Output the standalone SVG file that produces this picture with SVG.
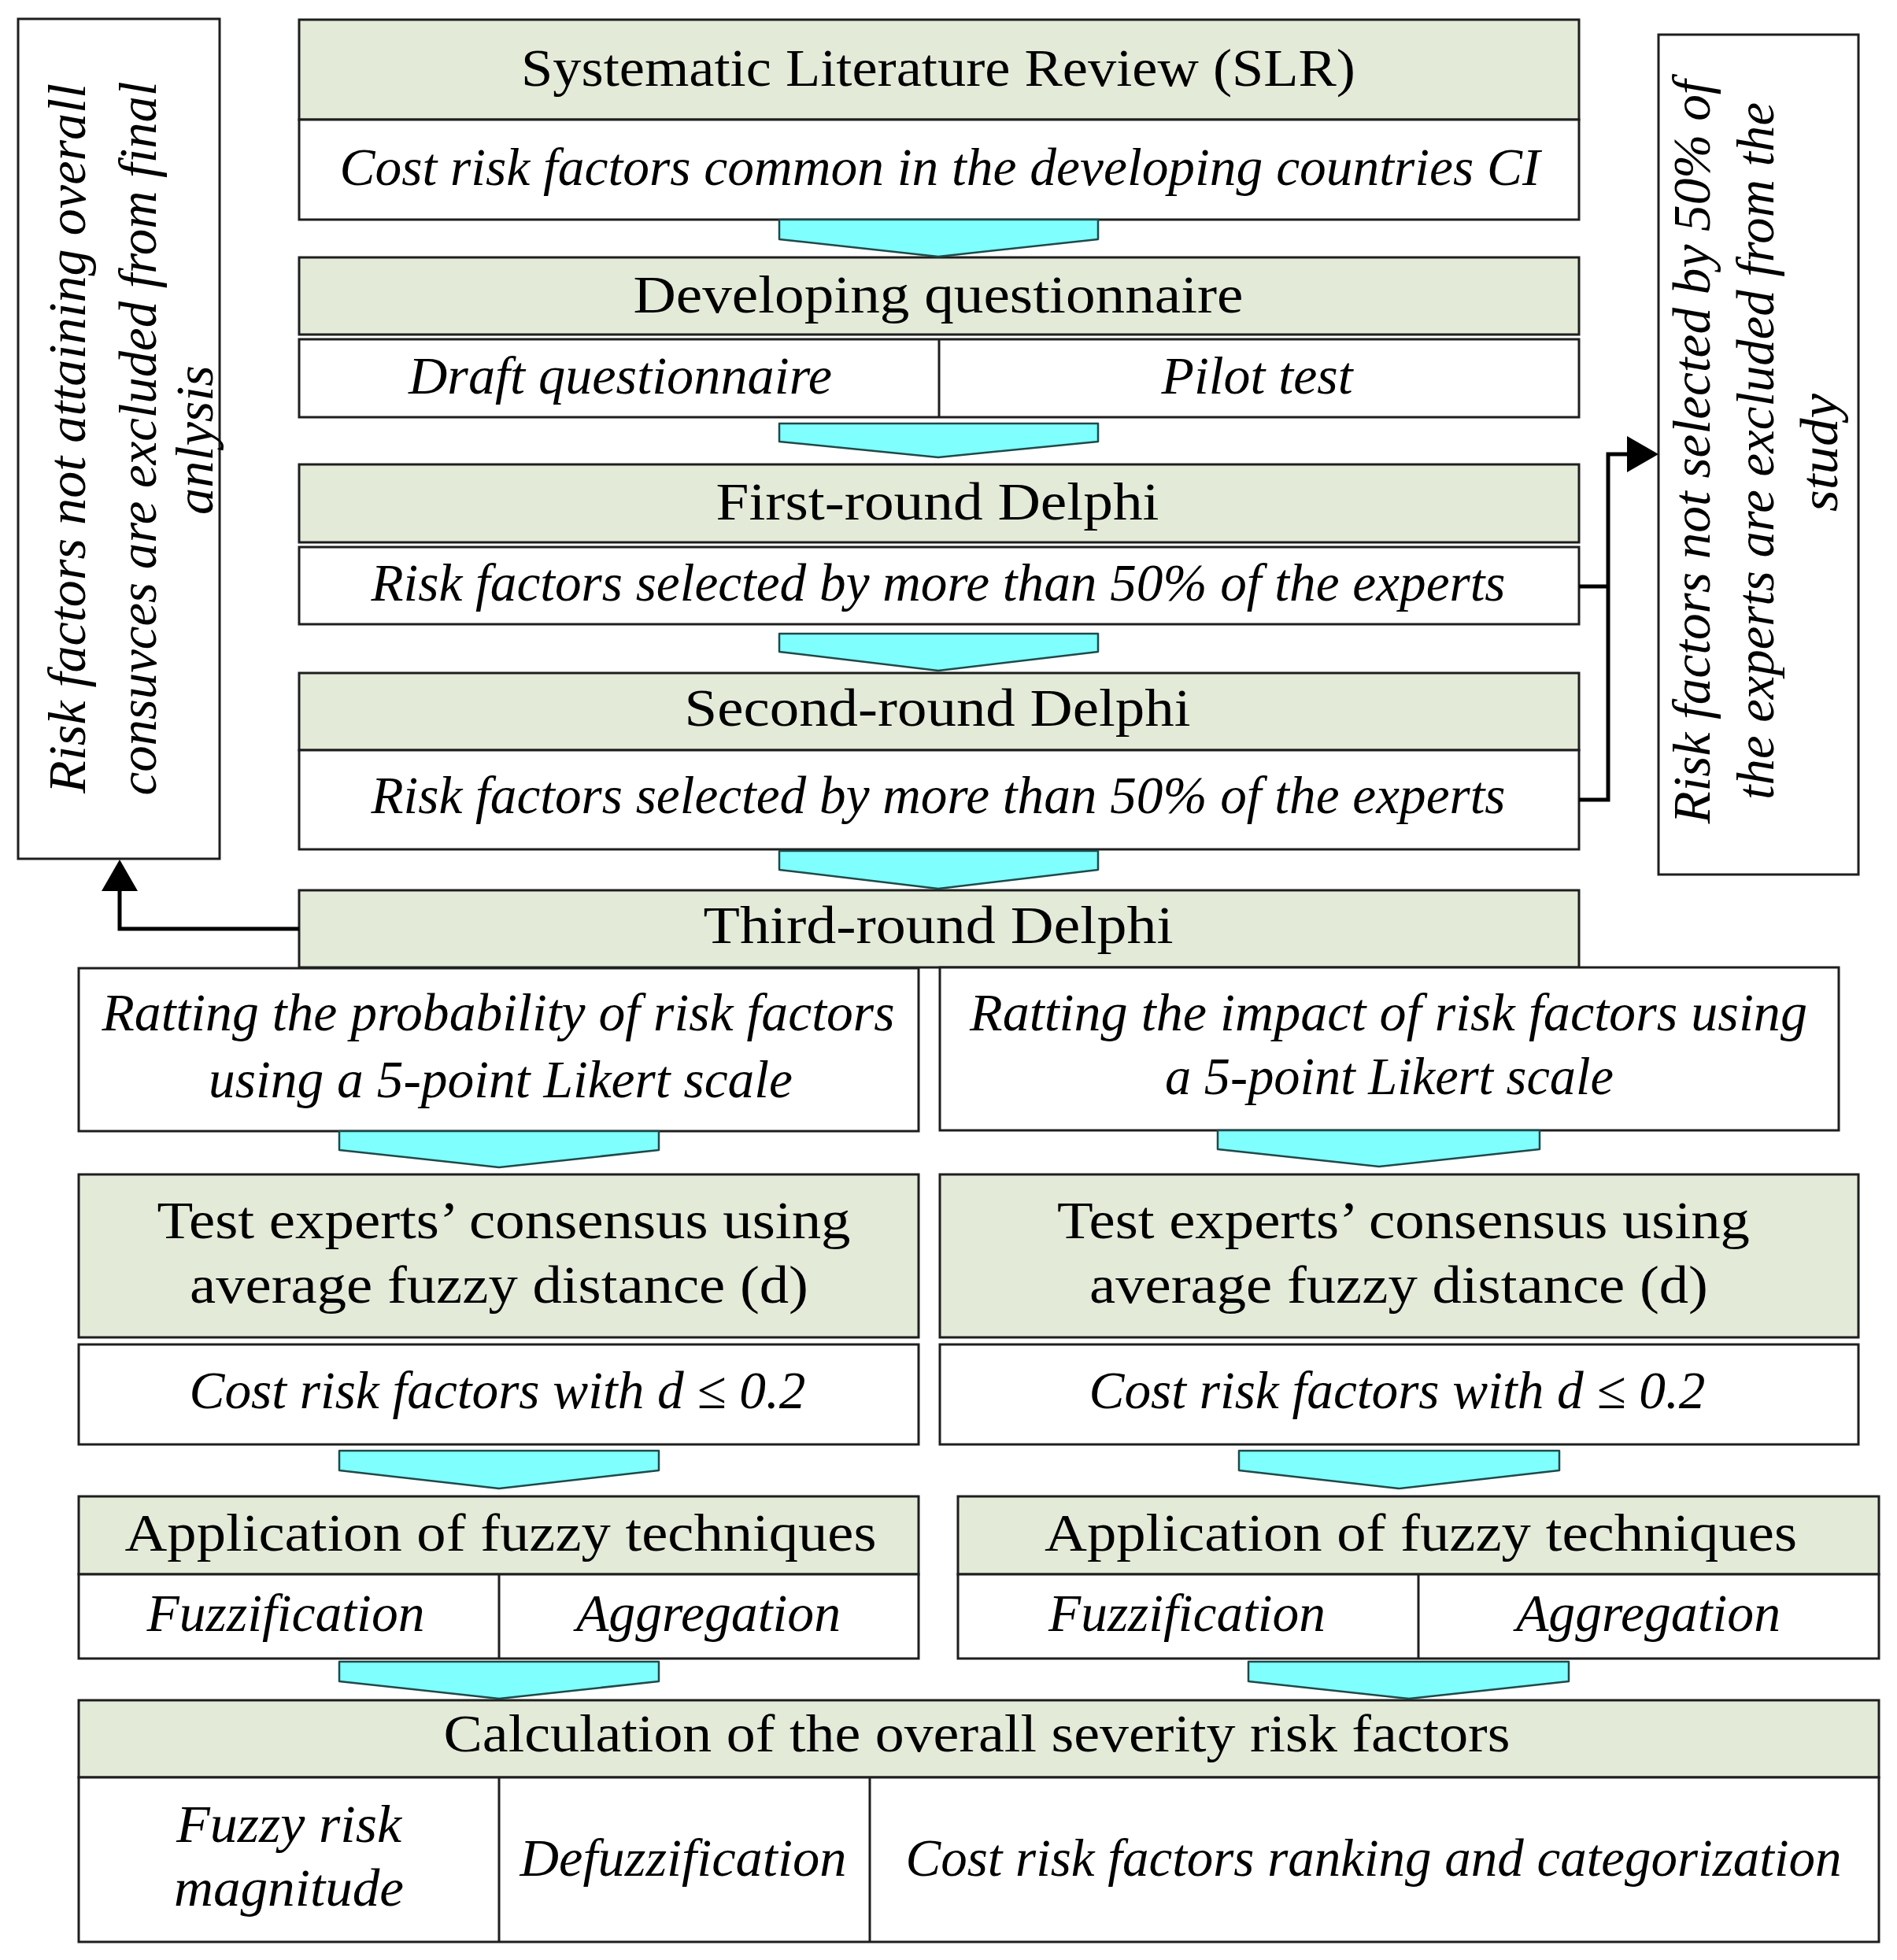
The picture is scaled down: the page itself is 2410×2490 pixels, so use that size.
<svg xmlns="http://www.w3.org/2000/svg" width="2410" height="2490" viewBox="0 0 2410 2490">
<style>
.bg{fill:#fff}
.hdr{fill:#e3ead8;stroke:#1e1e1e;stroke-width:3}
.sub{fill:#fff;stroke:#1e1e1e;stroke-width:3}
.note{fill:#fff;stroke:#1e1e1e;stroke-width:3}
.div{stroke:#1e1e1e;stroke-width:3}
.chev{fill:#80ffff;stroke:#1f4a4a;stroke-width:2.5;stroke-linejoin:round}
.t{font-family:"Liberation Serif","DejaVu Serif",serif;font-size:68px;fill:#000;text-anchor:middle}
.i{font-style:italic}
.conn{fill:none;stroke:#000;stroke-width:5}
</style>
<defs>
<marker id="ah" viewBox="0 0 40 46" refX="0" refY="23" markerWidth="40" markerHeight="46" markerUnits="userSpaceOnUse" orient="auto">
<path d="M0,0 L40,23 L0,46 z" fill="#000"/>
</marker>
</defs>
<rect class="bg" x="0" y="0" width="2410" height="2490"/>

<g id="note-left">
<rect class="note" x="23" y="24" width="256" height="1067"/>
<text class="t i" transform="rotate(-90 108 557)" x="108" y="557" textLength="902" lengthAdjust="spacingAndGlyphs">Risk factors not attaining overall</text>
<text class="t i" transform="rotate(-90 198 557)" x="198" y="557" textLength="907" lengthAdjust="spacingAndGlyphs">consuvces are excluded from final</text>
<text class="t i" transform="rotate(-90 270 559)" x="270" y="559" textLength="190" lengthAdjust="spacingAndGlyphs">anlysis</text>
</g>

<g id="note-right">
<rect class="note" x="2107" y="44" width="254" height="1067"/>
<text class="t i" transform="rotate(-90 2172 574)" x="2172" y="574" textLength="945" lengthAdjust="spacingAndGlyphs">Risk factors not selected by 50% of</text>
<text class="t i" transform="rotate(-90 2253 573)" x="2253" y="573" textLength="886" lengthAdjust="spacingAndGlyphs">the experts are excluded from the</text>
<text class="t i" transform="rotate(-90 2334 575)" x="2334" y="575" textLength="150" lengthAdjust="spacingAndGlyphs">study</text>
</g>

<g id="slr">
<rect class="hdr" x="380" y="25" width="1626" height="127"/>
<rect class="sub" x="380" y="152" width="1626" height="127"/>
<text class="t" x="1192" y="109" textLength="1060" lengthAdjust="spacingAndGlyphs">Systematic Literature Review (SLR)</text>
<text class="t i" x="1194" y="235" textLength="1525" lengthAdjust="spacingAndGlyphs">Cost risk factors common in the developing countries CI</text>
</g>

<g id="questionnaire">
<rect class="hdr" x="380" y="327" width="1626" height="98"/>
<rect class="sub" x="380" y="431" width="1626" height="99"/>
<line class="div" x1="1193" y1="431" x2="1193" y2="530"/>
<text class="t" x="1192" y="397" textLength="775" lengthAdjust="spacingAndGlyphs">Developing questionnaire</text>
<text class="t i" x="788" y="500" textLength="538" lengthAdjust="spacingAndGlyphs">Draft questionnaire</text>
<text class="t i" x="1597" y="500" textLength="243" lengthAdjust="spacingAndGlyphs">Pilot test</text>
</g>

<g id="delphi1">
<rect class="hdr" x="380" y="590" width="1626" height="99"/>
<rect class="sub" x="380" y="695" width="1626" height="98"/>
<text class="t" x="1191" y="660" textLength="563" lengthAdjust="spacingAndGlyphs">First-round Delphi</text>
<text class="t i" x="1192" y="763" textLength="1441" lengthAdjust="spacingAndGlyphs">Risk factors selected by more than 50% of the experts</text>
</g>

<g id="delphi2">
<rect class="hdr" x="380" y="855" width="1626" height="98"/>
<rect class="sub" x="380" y="953" width="1626" height="126"/>
<text class="t" x="1191" y="922" textLength="643" lengthAdjust="spacingAndGlyphs">Second-round Delphi</text>
<text class="t i" x="1192" y="1033" textLength="1441" lengthAdjust="spacingAndGlyphs">Risk factors selected by more than 50% of the experts</text>
</g>

<g id="delphi3">
<rect class="hdr" x="380" y="1131" width="1626" height="98"/>
<text class="t" x="1192" y="1198" textLength="597" lengthAdjust="spacingAndGlyphs">Third-round Delphi</text>
</g>

<g id="rate-prob">
<rect class="sub" x="100" y="1230" width="1067" height="207"/>
<text class="t i" x="633" y="1309" textLength="1007" lengthAdjust="spacingAndGlyphs">Ratting the probability of risk factors</text>
<text class="t i" x="636" y="1394" textLength="742" lengthAdjust="spacingAndGlyphs">using a 5-point Likert scale</text>
</g>

<g id="rate-impact">
<rect class="sub" x="1194" y="1229" width="1142" height="207"/>
<text class="t i" x="1764" y="1309" textLength="1064" lengthAdjust="spacingAndGlyphs">Ratting the impact of risk factors using</text>
<text class="t i" x="1765" y="1390" textLength="570" lengthAdjust="spacingAndGlyphs">a 5-point Likert scale</text>
</g>

<g id="consensus-left">
<rect class="hdr" x="100" y="1492" width="1067" height="207"/>
<rect class="sub" x="100" y="1708" width="1067" height="127"/>
<text class="t" x="640" y="1573" textLength="881" lengthAdjust="spacingAndGlyphs">Test experts’ consensus using</text>
<text class="t" x="634" y="1655" textLength="786" lengthAdjust="spacingAndGlyphs">average fuzzy distance (d)</text>
<text class="t i" x="632" y="1789" textLength="783" lengthAdjust="spacingAndGlyphs">Cost risk factors with d ≤ 0.2</text>
</g>

<g id="consensus-right">
<rect class="hdr" x="1194" y="1492" width="1167" height="207"/>
<rect class="sub" x="1194" y="1708" width="1167" height="127"/>
<text class="t" x="1783" y="1573" textLength="880" lengthAdjust="spacingAndGlyphs">Test experts’ consensus using</text>
<text class="t" x="1777" y="1655" textLength="786" lengthAdjust="spacingAndGlyphs">average fuzzy distance (d)</text>
<text class="t i" x="1775" y="1789" textLength="783" lengthAdjust="spacingAndGlyphs">Cost risk factors with d ≤ 0.2</text>
</g>

<g id="fuzzy-left">
<rect class="hdr" x="100" y="1901" width="1067" height="99"/>
<rect class="sub" x="100" y="2000" width="1067" height="107"/>
<line class="div" x1="634" y1="2000" x2="634" y2="2107"/>
<text class="t" x="636" y="1970" textLength="955" lengthAdjust="spacingAndGlyphs">Application of fuzzy techniques</text>
<text class="t i" x="363" y="2072" textLength="353" lengthAdjust="spacingAndGlyphs">Fuzzification</text>
<text class="t i" x="900" y="2072" textLength="336" lengthAdjust="spacingAndGlyphs">Aggregation</text>
</g>

<g id="fuzzy-right">
<rect class="hdr" x="1217" y="1901" width="1170" height="99"/>
<rect class="sub" x="1217" y="2000" width="1170" height="107"/>
<line class="div" x1="1802" y1="2000" x2="1802" y2="2107"/>
<text class="t" x="1805" y="1970" textLength="956" lengthAdjust="spacingAndGlyphs">Application of fuzzy techniques</text>
<text class="t i" x="1508" y="2072" textLength="352" lengthAdjust="spacingAndGlyphs">Fuzzification</text>
<text class="t i" x="2094" y="2072" textLength="336" lengthAdjust="spacingAndGlyphs">Aggregation</text>
</g>

<g id="severity">
<rect class="hdr" x="100" y="2160" width="2287" height="98"/>
<rect class="sub" x="100" y="2258" width="2287" height="209"/>
<line class="div" x1="634" y1="2258" x2="634" y2="2467"/>
<line class="div" x1="1105" y1="2258" x2="1105" y2="2467"/>
<text class="t" x="1241" y="2225" textLength="1355" lengthAdjust="spacingAndGlyphs">Calculation of the overall severity risk factors</text>
<text class="t i" x="367" y="2340" textLength="286" lengthAdjust="spacingAndGlyphs">Fuzzy risk</text>
<text class="t i" x="367" y="2421" textLength="292" lengthAdjust="spacingAndGlyphs">magnitude</text>
<text class="t i" x="868" y="2383" textLength="415" lengthAdjust="spacingAndGlyphs">Defuzzification</text>
<text class="t i" x="1745" y="2383" textLength="1189" lengthAdjust="spacingAndGlyphs">Cost risk factors ranking and categorization</text>
</g>

<g id="connectors">
<polygon class="chev" points="990,279 1395,279 1395,304 1192,326 990,304"/>
<polygon class="chev" points="990,538 1395,538 1395,561 1192,581 990,561"/>
<polygon class="chev" points="990,805 1395,805 1395,828 1192,852 990,828"/>
<polygon class="chev" points="990,1081 1395,1081 1395,1105 1192,1129 990,1105"/>
<polygon class="chev" points="431,1437 837,1437 837,1461 634,1483 431,1461"/>
<polygon class="chev" points="1547,1436 1956,1436 1956,1460 1752,1482 1547,1460"/>
<polygon class="chev" points="431,1843 837,1843 837,1868 634,1891 431,1868"/>
<polygon class="chev" points="1574,1843 1981,1843 1981,1868 1777,1891 1574,1868"/>
<polygon class="chev" points="431,2111 837,2111 837,2136 634,2158 431,2136"/>
<polygon class="chev" points="1586,2111 1993,2111 1993,2136 1790,2158 1586,2136"/>
<path class="conn" d="M380,1180 H152 V1132" marker-end="url(#ah)"/>
<path class="conn" d="M2006,745 H2043"/>
<path class="conn" d="M2006,1016 H2043 V577 H2067" marker-end="url(#ah)"/>
</g>
</svg>
